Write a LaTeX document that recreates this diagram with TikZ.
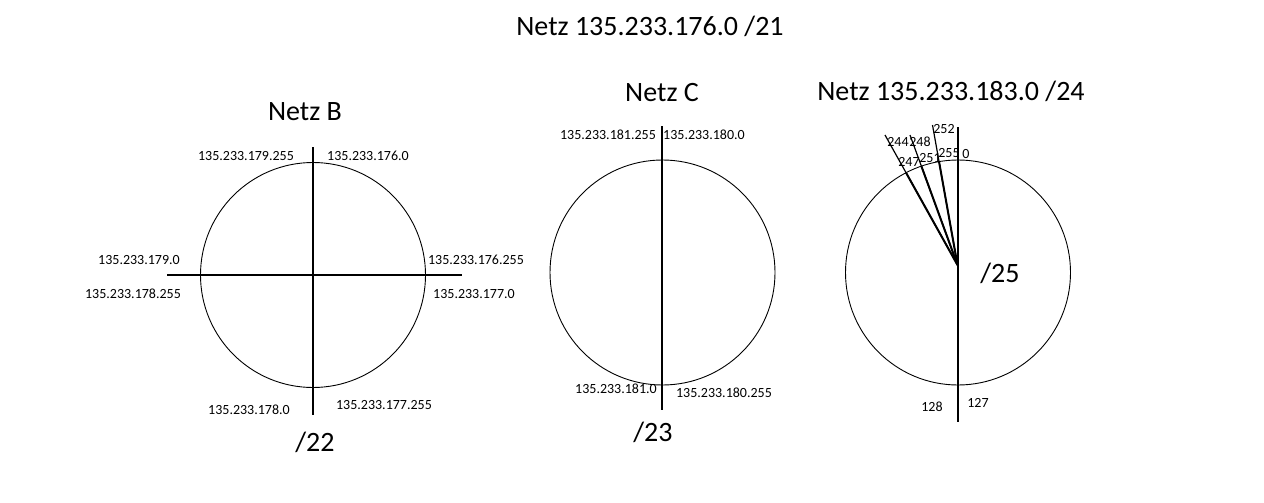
\documentclass[tikz,border=0pt]{standalone}
\usepackage{fontspec}
\setmainfont{Carlito}
\begin{document}
\begin{tikzpicture}[x=1pt,y=-1pt,
  lbl/.style={inner sep=0pt,font=\fontsize{14}{16}\selectfont},
  big/.style={inner sep=0pt,font=\fontsize{28}{32}\selectfont},
  ring/.style={draw=black,line width=0.9pt},
  thinline/.style={draw=black,line width=1.2pt},
  thickline/.style={draw=black,line width=2pt}]
\useasboundingbox[fill=white] (0,0) rectangle (1264,503);
% titles
\node[big] (title) at (650,26) {Netz 135.233.176.0 /21};
\node[big] (tb) at (305,112) {Netz B};
\node[big] (tc) at (662,93) {Netz C};
\node[big] (td) at (951,91) {Netz 135.233.183.0 /24};
% ---- Circle B
\coordinate (bc) at (313,275);
\draw[ring] (bc) circle[radius=112.5];
\coordinate (bt) at (313,147);
\coordinate (bb) at (313,415);
\coordinate (bl) at (167,275);
\coordinate (br) at (462,275);
\draw[thinline] (bt) -- (bb);
\draw[thinline] (bl) -- (br);
\node[lbl] (b1) at (246,156) {135.233.179.255};
\node[lbl] (b2) at (368,156) {135.233.176.0};
\node[lbl] (b3) at (139,260) {135.233.179.0};
\node[lbl] (b4) at (476,260) {135.233.176.255};
\node[lbl] (b5) at (133,294) {135.233.178.255};
\node[lbl] (b6) at (474,294) {135.233.177.0};
\node[lbl] (b7) at (249,410) {135.233.178.0};
\node[lbl] (b8) at (384,405) {135.233.177.255};
\node[big] (b22) at (315,442) {/22};
% ---- Circle C
\coordinate (cc) at (662.5,272.5);
\draw[ring] (cc) circle[radius=112.5];
\coordinate (ct) at (662,126);
\coordinate (cb) at (662,410);
\draw[thinline] (ct) -- (cb);
\begin{scope}
\clip (cc) circle[radius=112.5];
\draw[thickline] (ct) -- (cb);
\end{scope}
\node[lbl] (c1) at (608,135) {135.233.181.255};
\node[lbl] (c2) at (704,135) {135.233.180.0};
\node[lbl] (c3) at (616,389) {135.233.181.0};
\node[lbl] (c4) at (724,393) {135.233.180.255};
\node[big] (c23) at (653,432) {/23};
% ---- Circle D
\coordinate (dc) at (958,272.5);
\coordinate (dm) at (957.5,265);
\draw[ring] (dc) circle[radius=112.5];
\coordinate (dt) at (958,127);
\coordinate (db) at (958,422);
\coordinate (r1) at (885,135);
\coordinate (r2) at (910,135);
\coordinate (r3) at (932.5,125);
\draw[thinline] (dt) -- (db);
\draw[thinline] (dm) -- (r1);
\draw[thinline] (dm) -- (r2);
\draw[thinline] (dm) -- (r3);
\begin{scope}
\clip (dc) circle[radius=112.5];
\draw[thickline] (dt) -- (db);
\draw[thickline] (dm) -- (r1);
\draw[thickline] (dm) -- (r2);
\draw[thickline] (dm) -- (r3);
\end{scope}
\node[lbl] (d252) at (944,129) {252};
\node[lbl] (d244) at (898,142) {244};
\node[lbl] (d248) at (920,142) {248};
\node[lbl] (d247) at (909,162) {247};
\node[lbl] (d251) at (930,158) {251};
\node[lbl] (d255) at (949,153) {255};
\node[lbl] (d0) at (966,154) {0};
\node[lbl] (d128) at (932,407) {128};
\node[lbl] (d127) at (978,403) {127};
\node[big] (d25) at (1000,273) {/25};
\end{tikzpicture}
\end{document}
